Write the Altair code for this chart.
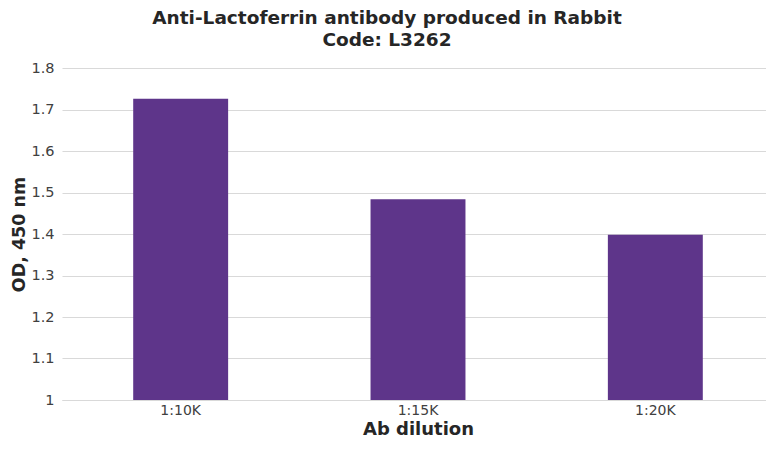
import altair as alt
import pandas as pd

dilutions = ["1:10K", "1:15K", "1:20K"]
od_values = [1.726, 1.484, 1.398]
y_ticks = [1.0, 1.1, 1.2, 1.3, 1.4, 1.5, 1.6, 1.7, 1.8]

df = pd.DataFrame({"dilution": dilutions, "od": od_values})

FONT = "DejaVu Sans"

chart = alt.Chart(df).mark_bar(color="#5E358A").encode(
    x=alt.X(
        "dilution:N",
        sort=dilutions,
        scale=alt.Scale(paddingInner=0.6, paddingOuter=0.3, range=[0, 712]),
        axis=alt.Axis(
            title="Ab dilution",
            labelAngle=0,
            ticks=False,
            domainColor="#D9D9D9",
            labelFont=FONT,
            labelFontSize=14,
            labelColor="#404040",
            labelPadding=3,
            titleFont=FONT,
            titleFontSize=18,
            titleFontWeight="bold",
            titleColor="#262626",
            titlePadding=3,
            titleX=356,
        ),
    ),
    y=alt.Y(
        "od:Q",
        scale=alt.Scale(domain=[1.0, 1.8], zero=False, nice=False),
        axis=alt.Axis(
            title="OD, 450 nm",
            values=y_ticks,
            format="~g",
            ticks=False,
            domain=False,
            gridColor="#D9D9D9",
            labelFont=FONT,
            labelFontSize=14.5,
            labelColor="#404040",
            labelPadding=8,
            titleFont=FONT,
            titleFontSize=17.5,
            titleFontWeight="bold",
            titleColor="#262626",
            titlePadding=2,
        ),
    ),
    y2=alt.datum(1.0),
).properties(
    width=704,
    height=332,
    padding={"left": 54, "top": 60, "right": 0, "bottom": 42},
    autosize=alt.AutoSizeParams(type="none"),
    title=alt.TitleParams(
        text=["Anti-Lactoferrin antibody produced in Rabbit", "Code: L3262"],
        font=FONT,
        fontSize=18.5,
        fontWeight="bold",
        color="#262626",
        anchor="middle",
        frame="group",
        dx=-27,
        lineHeight=22,
        offset=11,
    ),
).configure_view(stroke=None)

chart.save("out.html", embed_options={"renderer": "svg", "actions": False})
